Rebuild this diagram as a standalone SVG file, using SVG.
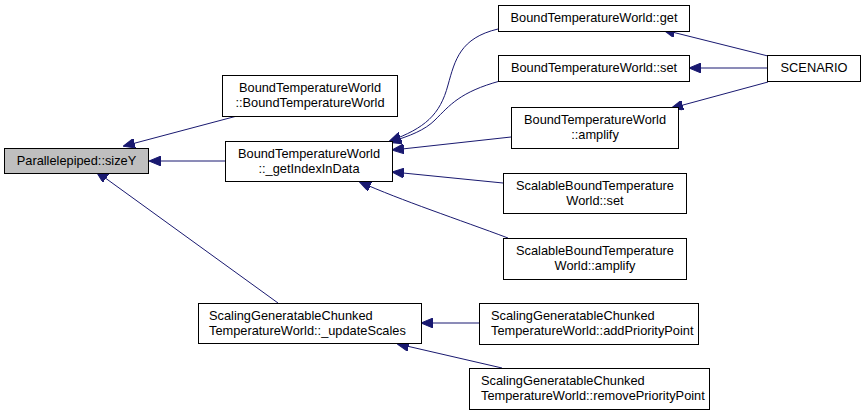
<svg xmlns="http://www.w3.org/2000/svg" width="867" height="415" viewBox="0 0 867 415">
<style>
.n rect{fill:#fff;stroke:#000;stroke-width:1}
.n.f rect{fill:#bfbfbf}
text{font-family:"Liberation Sans",Arial,sans-serif;font-size:12.8px;fill:#000}
.c{text-anchor:middle}
.e path{fill:none;stroke:#191970;stroke-width:1}
</style>
<defs>
<marker id="a" viewBox="0 0 12 10" refX="11" refY="5" markerWidth="12" markerHeight="10" markerUnits="userSpaceOnUse" orient="auto">
<path d="M0,0 L12,5 L0,10 Z" fill="#191970" stroke="#191970"/>
</marker>
</defs>
<rect width="867" height="415" fill="#fff"/>
<g class="e" marker-end="url(#a)">
<path d="M237,116 L124,146" marker-end="url(#a)"/>
<path d="M225,161 L150,161" marker-end="url(#a)"/>
<path d="M278,303 L97,172" marker-end="url(#a)"/>
<path d="M498,29 C460,38 455,60 448,85 C440,115 425,128 390,141" marker-end="url(#a)"/>
<path d="M500,81 C460,92 450,105 435,120 C425,130 410,136 390,142" marker-end="url(#a)"/>
<path d="M511,137 L393,150" marker-end="url(#a)"/>
<path d="M503,183 L393,172" marker-end="url(#a)"/>
<path d="M508,238 C460,220 400,200 360,182" marker-end="url(#a)"/>
<path d="M768,56 L664,30" marker-end="url(#a)"/>
<path d="M768,68 L690,68" marker-end="url(#a)"/>
<path d="M768,82 L672,108" marker-end="url(#a)"/>
<path d="M479,323 L422,323" marker-end="url(#a)"/>
<path d="M502,368 L398,344" marker-end="url(#a)"/>
</g>
<g id="sizeY" class="n f"><rect x="4.5" y="148.5" width="144" height="25"/><text class="c" x="76.5" y="165">Parallelepiped::sizeY</text></g>
<g id="btw" class="n"><rect x="222.5" y="75.5" width="175" height="41"/><text class="c" x="310" y="92">BoundTemperatureWorld</text><text class="c" x="310" y="107">::BoundTemperatureWorld</text></g>
<g id="getIndex" class="n"><rect x="225.5" y="141.5" width="167" height="40"/><text class="c" x="309" y="158">BoundTemperatureWorld</text><text class="c" x="309" y="173">::_getIndexInData</text></g>
<g id="updateScales" class="n"><rect x="198.5" y="303.5" width="223" height="40"/><text x="209" y="320">ScalingGeneratableChunked</text><text x="209" y="335">TemperatureWorld::_updateScales</text></g>
<g id="get" class="n"><rect x="498.5" y="5.5" width="191" height="26"/><text class="c" x="594" y="22">BoundTemperatureWorld::get</text></g>
<g id="set" class="n"><rect x="498.5" y="55.5" width="191" height="26"/><text class="c" x="594" y="72">BoundTemperatureWorld::set</text></g>
<g id="amplify" class="n"><rect x="511.5" y="107.5" width="167" height="41"/><text class="c" x="595" y="124">BoundTemperatureWorld</text><text class="c" x="595" y="139">::amplify</text></g>
<g id="scenario" class="n"><rect x="767.5" y="55.5" width="93" height="26"/><text class="c" x="814" y="72">SCENARIO</text></g>
<g id="sset" class="n"><rect x="503.5" y="173.5" width="183" height="40"/><text class="c" x="595" y="190">ScalableBoundTemperature</text><text class="c" x="595" y="205">World::set</text></g>
<g id="samplify" class="n"><rect x="503.5" y="238.5" width="183" height="41"/><text class="c" x="595" y="255">ScalableBoundTemperature</text><text class="c" x="595" y="270">World::amplify</text></g>
<g id="addPP" class="n"><rect x="479.5" y="303.5" width="219" height="41"/><text x="491" y="320">ScalingGeneratableChunked</text><text x="491" y="335">TemperatureWorld::addPriorityPoint</text></g>
<g id="removePP" class="n"><rect x="469.5" y="368.5" width="240" height="41"/><text x="481" y="385">ScalingGeneratableChunked</text><text x="481" y="400">TemperatureWorld::removePriorityPoint</text></g>
</svg>
